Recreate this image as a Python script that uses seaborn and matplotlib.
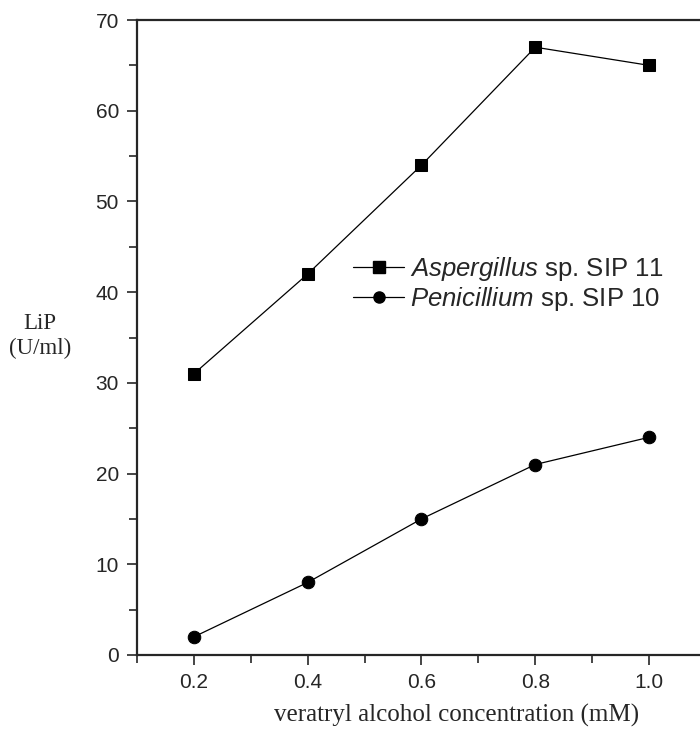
import matplotlib
matplotlib.use("Agg")
import matplotlib.pyplot as plt
from matplotlib.ticker import MultipleLocator
from matplotlib.lines import Line2D
import seaborn as sns
import pandas as pd

concentration = [0.2, 0.4, 0.6, 0.8, 1.0]
aspergillus = [31, 42, 54, 67, 65]
penicillium = [2, 8, 15, 21, 24]
series_names = ["Aspergillus sp. SIP 11", "Penicillium sp. SIP 10"]
x_ticks = [0.2, 0.4, 0.6, 0.8, 1.0]
x_tick_labels = ["0.2", "0.4", "0.6", "0.8", "1.0"]

df = pd.DataFrame({
    "conc": concentration * 2,
    "lip": aspergillus + penicillium,
    "strain": [series_names[0]] * 5 + [series_names[1]] * 5,
})

sns.set_style("ticks")
plt.rcParams["font.family"] = ["Liberation Sans", "DejaVu Sans"]
plt.rcParams["mathtext.fontset"] = "custom"
plt.rcParams["mathtext.it"] = "Liberation Sans:italic"

fig = plt.figure(figsize=(7.0, 7.34), dpi=100)
ax = fig.add_axes([137 / 700, 1 - 655 / 734, (706 - 137) / 700, (655 - 20) / 734])

sns.lineplot(data=df, x="conc", y="lip", hue="strain", style="strain",
             markers={series_names[0]: "s", series_names[1]: "o"},
             dashes=False, palette=["black", "black"], linewidth=0.9,
             markersize=9, markeredgecolor="black", ax=ax, legend=False)

ax.set_xlim(0.1, 1.1)
ax.set_ylim(0, 70)
ax.set_xticks(x_ticks)
ax.set_xticklabels(x_tick_labels)
ax.xaxis.set_minor_locator(MultipleLocator(0.1))
ax.yaxis.set_major_locator(MultipleLocator(10))
ax.yaxis.set_minor_locator(MultipleLocator(5))

ax.tick_params(axis="both", which="major", direction="out", length=7, width=1.2,
               labelsize=15, pad=6)
ax.tick_params(axis="both", which="minor", direction="out", length=6, width=1.2)

for side in ["left", "bottom", "top"]:
    ax.spines[side].set_linewidth(1.6)
ax.spines["right"].set_visible(False)

ax.set_xlabel("veratryl alcohol concentration (mM)", family="Liberation Serif",
              fontsize=18)
ax.xaxis.set_label_coords((457 - 137) / 569, -(715 - 655) / 635)
ax.xaxis.label.set_va("center")
ax.set_ylabel("")
fig.text(40 / 700, 1 - 336 / 734, "LiP\n(U/ml)", family="Liberation Serif",
         fontsize=16.5, ha="center", va="center", linespacing=1.25)

# legend entries
handles = [
    Line2D([], [], color="black", marker="s", markersize=8, linewidth=0.9),
    Line2D([], [], color="black", marker="o", markersize=8, linewidth=0.9),
]
labels = [r"$\mathit{Aspergillus}$ sp. SIP 11", r"$\mathit{Penicillium}$ sp. SIP 10"]
ax.legend(handles, labels, loc="center left",
          bbox_to_anchor=((353 - 137) / 569, 1 - (284 - 20) / 635),
          frameon=False, fontsize=18.5, handlelength=2.0, handletextpad=0.2,
          labelspacing=0.05, borderaxespad=0, borderpad=0)

fig.savefig("out.png", dpi=100)
